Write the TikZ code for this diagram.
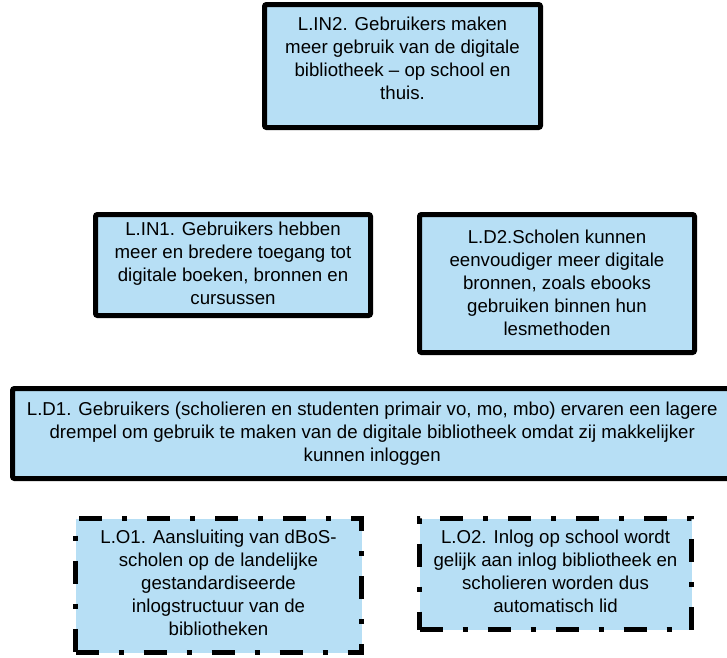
\documentclass[tikz,border=0pt]{standalone}
\usepackage{fontspec}
\setmainfont{Liberation Sans}

\definecolor{doelblauw}{RGB}{183,223,245}
\newlength{\px}
\setlength{\px}{0.75pt}
\newcommand*{\doeltekst}[4]{%
  \parbox[c][#2\px][t]{#1\px}{\centering\fontsize{14}{17.25}\selectfont\vspace*{#3\px}#4}}

\providecommand*{\xMin}{}
\providecommand*{\xMax}{}
\providecommand*{\yMin}{}
\providecommand*{\yMax}{}
\renewcommand*{\xMin}{0}
\renewcommand*{\xMax}{727}
\renewcommand*{\yMin}{0}
\renewcommand*{\yMax}{657}

\tikzset{
  doel/.style={draw=black, fill=doelblauw, line width=3.75pt, inner sep=0pt, rounded corners=1.5pt},
  doelstreep/.style={doel, line width=3.4pt, rounded corners=0pt,
    dash pattern=on 17.25pt off 15pt on 3.75pt off 15pt},
}

\begin{document}
\begin{tikzpicture}[x=0.75pt,y=-0.75pt]
  \useasboundingbox (\xMin,\yMin) rectangle (\xMax,\yMax);
  \node [doel] (in2) at (402.5,66) {\doeltekst{276}{123}{12.5}{L.IN2. Gebruikers maken\\
    meer gebruik van de digitale\\ bibliotheek – op school en\\ thuis.}};
  \node [doel] (in1) at (233,265) {\doeltekst{275}{101}{7.5}{L.IN1. Gebruikers hebben\\
    meer en bredere toegang tot\\ digitale boeken, bronnen en\\ cursussen}};
  \node [doel] (d2) at (557,283.5) {\doeltekst{275}{138}{15.5}{L.D2.Scholen kunnen\\
    eenvoudiger meer digitale\\ bronnen, zoals ebooks\\ gebruiken binnen hun\\ lesmethoden}};
  \node [doel] (d1) at (372.25,433.5) {\doeltekst{719.5}{90}{13.5}{L.D1. Gebruikers (scholieren en studenten primair vo, mo, mbo) ervaren een lagere\\
    drempel om gebruik te maken van de digitale bibliotheek omdat zij makkelijker\\ kunnen inloggen}};
  % onderste laag, gestreept
  \node [doelstreep] (o1) at (218.5,585.5) {\doeltekst{286}{134}{11.5}{L.O1. Aansluiting van dBoS-\\
    scholen op de landelijke\\ gestandardiseerde\\ inlogstructuur van de\\ bibliotheken}};
  \node [doelstreep] (o2) at (555.5,574) {\doeltekst{272}{111}{11.5}{L.O2. Inlog op school wordt\\
    gelijk aan inlog bibliotheek en\\ scholieren worden dus\\ automatisch lid}};
\end{tikzpicture}
\end{document}
